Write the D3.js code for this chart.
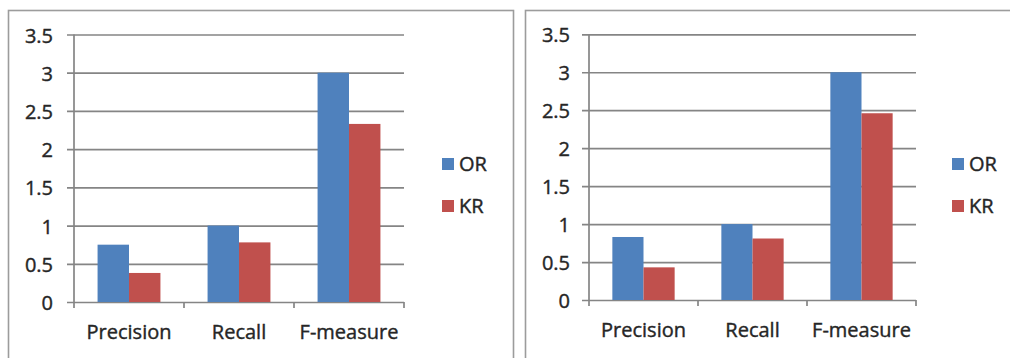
<!DOCTYPE html>
<html>
<head>
<meta charset="utf-8">
<script src="https://cdn.jsdelivr.net/npm/d3@7"></script>
<style>
  html, body { margin: 0; padding: 0; background: #fff; }
  svg { display: block; }
  text { font-family: "Open Sans", "Noto Sans", sans-serif; fill: #262626; stroke: #262626; stroke-width: 0.4px; }
</style>
</head>
<body>
<svg id="chart" width="1010" height="358"></svg>
<script>
// Categories, series and tick labels
const categories = ["Precision", "Recall", "F-measure"];
const seriesNames = ["OR", "KR"];
const seriesColors = ["#4F81BD", "#C0504D"];
const yTicks = [0, 0.5, 1, 1.5, 2, 2.5, 3, 3.5];
const yTickLabels = ["0", "0.5", "1", "1.5", "2", "2.5", "3", "3.5"];

// Left chart values
const leftOR = [0.75, 1.0, 3.0];
const leftKR = [0.38, 0.78, 2.33];

// Right chart values
const rightOR = [0.83, 1.0, 3.0];
const rightKR = [0.43, 0.81, 2.46];

const svg = d3.select("#chart");
const lineColor = "#858585";

function drawPanel(cfg) {
  const { frame, plot, values, labelGap, legend } = cfg;

  // Outer chart frame
  svg.append("rect")
    .attr("x", frame.x).attr("y", frame.y)
    .attr("width", frame.w).attr("height", frame.h)
    .attr("fill", "#fff")
    .attr("stroke", "#9c9c9c")
    .attr("stroke-width", 1.6);

  const w = plot.w, h = plot.h;
  const g = svg.append("g").attr("transform", `translate(${plot.x},${plot.y})`);

  const y = d3.scaleLinear().domain([0, 3.5]).range([h, 0]);
  const x0 = d3.scaleBand().domain(categories).range([0, w]).paddingInner(0).paddingOuter(0);
  const x1 = d3.scaleBand().domain(seriesNames).range([0, x0.bandwidth()])
    .paddingInner(0).paddingOuter(0.75);

  // Horizontal gridlines with left tick stubs and value labels
  const yAxis = d3.axisLeft(y)
    .tickValues(yTicks)
    .tickFormat((d, i) => yTickLabels[i])
    .tickSizeInner(-(w + 7))
    .tickSizeOuter(0)
    .tickPadding(labelGap);
  const yg = g.append("g").attr("transform", "translate(-7,0)").call(yAxis);
  yg.select(".domain").remove();
  yg.selectAll(".tick line").attr("stroke", lineColor).attr("stroke-width", 1.7);
  yg.selectAll(".tick text")
    .attr("dy", "0.38em")
    .style("font-size", "20px");

  // Vertical value axis line
  g.append("line")
    .attr("x1", 0).attr("x2", 0)
    .attr("y1", y(3.5)).attr("y2", h)
    .attr("stroke", lineColor).attr("stroke-width", 1.7);

  // Category boundary ticks below the base line
  const bounds = categories.map(c => x0(c)).concat([x0.range()[1]]);
  g.selectAll(".xtick").data(bounds).join("line")
    .attr("class", "xtick")
    .attr("x1", d => d).attr("x2", d => d)
    .attr("y1", h).attr("y2", h + 6)
    .attr("stroke", lineColor).attr("stroke-width", 1.7);

  // Category labels
  const xAxis = d3.axisBottom(x0).tickSize(0).tickPadding(23);
  const xg = g.append("g").attr("transform", `translate(0,${h})`).call(xAxis);
  xg.select(".domain").remove();
  xg.selectAll(".tick text").style("font-size", "20px");

  // Bars
  const rows = categories.map((c, i) => ({
    cat: c,
    vals: seriesNames.map((s, j) => ({ s, j, v: values[j][i] }))
  }));
  const groups = g.selectAll(".grp").data(rows).join("g")
    .attr("class", "grp")
    .attr("transform", d => `translate(${x0(d.cat)},0)`);
  groups.selectAll("rect").data(d => d.vals).join("rect")
    .attr("x", d => x1(d.s))
    .attr("width", x1.bandwidth())
    .attr("y", d => y(d.v))
    .attr("height", d => h - y(d.v))
    .attr("fill", d => seriesColors[d.j]);

  // Legend
  const lg = svg.append("g").attr("transform", `translate(${legend.x},${legend.y})`);
  const items = lg.selectAll("g").data(seriesNames).join("g")
    .attr("transform", (d, i) => `translate(0,${i * 42})`);
  items.append("rect")
    .attr("width", 12).attr("height", 12)
    .attr("fill", (d, i) => seriesColors[i]);
  items.append("text")
    .attr("x", 17).attr("y", 13)
    .style("font-size", "20px")
    .text(d => d);
}

drawPanel({
  frame: { x: 8.5, y: 10.5, w: 505, h: 360 },
  plot: { x: 74, y: 34.5, w: 330, h: 267.5 },
  values: [leftOR, leftKR],
  labelGap: 14,
  legend: { x: 442, y: 158 }
});

drawPanel({
  frame: { x: 525.5, y: 10.5, w: 500, h: 360 },
  plot: { x: 589, y: 34.3, w: 327, h: 265.7 },
  values: [rightOR, rightKR],
  labelGap: 12,
  legend: { x: 952, y: 158 }
});
</script>
</body>
</html>
